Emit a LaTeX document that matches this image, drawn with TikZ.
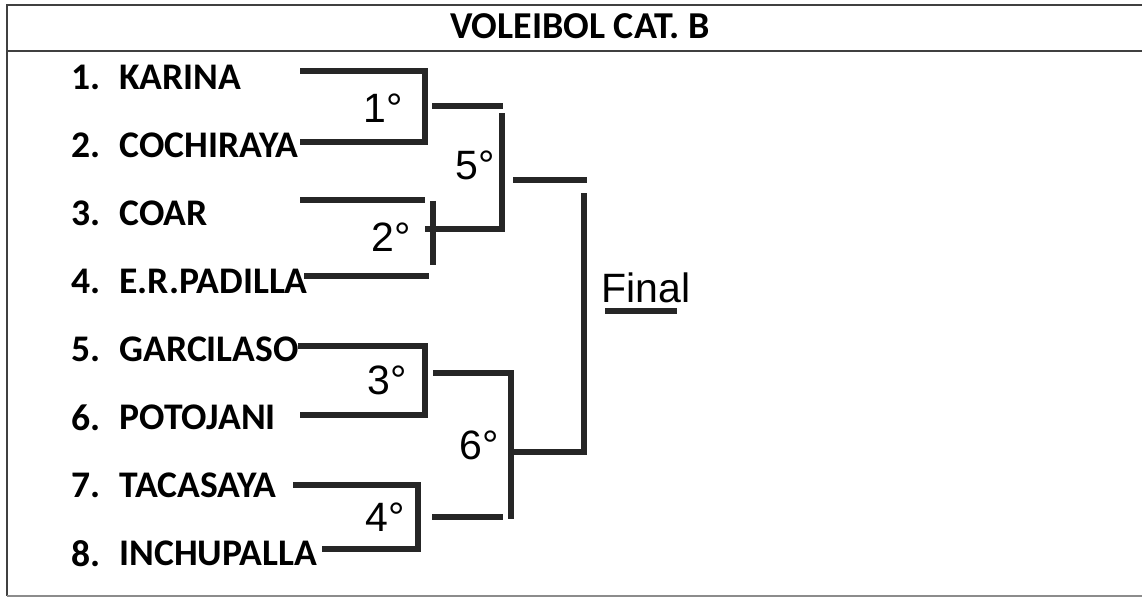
\documentclass[tikz,border=0pt]{standalone}
\usepackage{fontspec}
\setmainfont{Carlito}
\newfontfamily\arialf{Liberation Sans}

\begin{document}
\begin{tikzpicture}[
  x={(0.5pt,0)}, y={(0,-0.5pt)},
  bar/.style={line width=3pt, black!85},
  frame/.style={line width=0.6pt, black!75},
  team/.style={anchor=west, inner sep=0pt, font=\fontsize{18.8}{21}\bfseries\selectfont},
  rnd/.style={inner sep=0pt, font=\fontsize{20.5}{22}\arialf\selectfont}
]
\useasboundingbox (0,0) rectangle (1142,598);

% marco y titulo
\draw[frame] (1142,5) -- (7,5) -- (7,596);
\draw[frame] (7,51) -- (1142,51);
\draw[frame, black!45] (7,596) -- (1142,596);
\node[inner sep=0pt, font=\fontsize{19}{21}\bfseries\selectfont] (titulo) at (580,26) {VOLEIBOL CAT. B};

% equipos
\foreach \i/\team in {1/KARINA,2/COCHIRAYA,3/COAR,4/E.R.PADILLA,
                      5/GARCILASO,6/POTOJANI,7/TACASAYA,8/INCHUPALLA} {
  \node[team] (n\i) at (71,{77+68.1*(\i-1)}) {\i.};
  \node[team] (t\i) at (119,{77+68.1*(\i-1)}) {\team};
}

% extremos de las lineas
\coordinate (s1) at (300,71);
\coordinate (s2) at (300,142);
\coordinate (s3) at (300,200);
\coordinate (s4) at (304,276);
\coordinate (s5) at (298,346);
\coordinate (s6) at (300,415);
\coordinate (s7) at (293,485);
\coordinate (s8) at (322,549);

% primera ronda
\coordinate (w1) at (425,106);
\draw[bar] (s1) -| (w1) |- (s2);
\draw[bar] (s3) -- (425,200);
\draw[bar] (s4) -- (429,276);
\draw[bar] (433,201) -- (433,265);
\coordinate (w3) at (425,380);
\draw[bar] (s5) -| (w3) |- (s6);
\coordinate (w4) at (418,517);
\draw[bar] (s7) -| (w4) |- (s8);

\node[rnd] (r1) at (383,108) {1°};
\node[rnd] (r2) at (391,237) {2°};
\node[rnd] (r3) at (387,380) {3°};
\node[rnd] (r4) at (385,517) {4°};

% segunda ronda
\coordinate (g1) at (432,106);
\coordinate (g2) at (425,229);
\coordinate (g3) at (433,373);
\coordinate (g4) at (432,517);
\coordinate (v5) at (502,113);
\coordinate (v6) at (511,519);
\draw[bar] (g1) -- (503,106);
\draw[bar] (g2) -| (v5);
\draw[bar] (g3) -| (v6);
\draw[bar] (g4) -- (503,517);

\node[rnd] (r5) at (475,165) {5°};
\node[rnd] (r6) at (479,445) {6°};

% final
\coordinate (f5) at (513,180);
\coordinate (f6) at (513,452);
\coordinate (vf) at (584,193);
\draw[bar] (f5) -- (587,180);
\draw[bar] (f6) -| (vf);

\node[rnd, anchor=west, font=\fontsize{20.5}{22}\arialf\selectfont] (fin) at (601,288) {Final};
\draw[bar] (605,311) -- (677,311);
\end{tikzpicture}
\end{document}
